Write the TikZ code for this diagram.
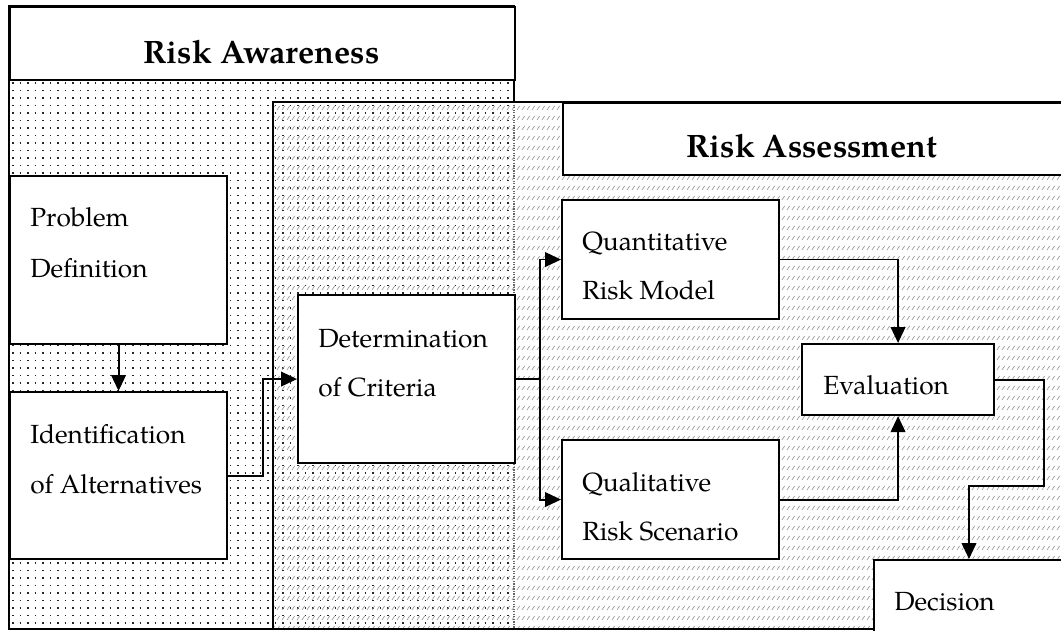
\documentclass[tikz,border=0pt]{standalone}
\usepackage{fontspec}
\setmainfont{TeX Gyre Pagella}
\usetikzlibrary{arrows.meta}
\newcommand\mybox[6][]{\node[box,#1,minimum width={(#5-#3)*0.75pt},minimum height={(#6-#4)*0.75pt}] (#2) at (#3,#4) {};}
\tikzset{
  box/.style={draw, line width=1.6pt, fill=white, inner sep=0pt, anchor=north west},
  txt/.style={anchor=base west, inner sep=0pt, font=\fontsize{19.7}{24}\selectfont},
  ttl/.style={anchor=base, inner sep=0pt, font=\bfseries\fontsize{24.3}{29}\selectfont},
  conn/.style={line width=1.4pt},
  arr/.style={conn, -{Triangle[length=12pt,width=11pt]}},
  dotrow/.style={black!85, line width=1.4pt, dash pattern=on 1.4pt off 4.225pt},
  hatch/.style={black!40, line width=0.5pt},
}
\begin{document}
\begin{tikzpicture}[x=0.75pt,y=-0.75pt]
\useasboundingbox (0,0) rectangle (1061,631);
\clip (0,0) rectangle (1061,631);
% Risk Awareness region: dotted fill
\begin{scope}
\clip (9,79) rectangle (514,629);
\foreach \r in {0,...,72}
  \draw[dotrow] (12,83+\r*7.5) -- (514,83+\r*7.5);
\end{scope}
\draw[line width=1.6pt] (514,102) -- (514,6) -- (9,6) -- (9,629) -- (273,629);
\mybox{rat}{9}{6}{514}{79}
\node[ttl] (ratt) at (261.5,64) {Risk Awareness};
% Risk Assessment region: hatched fill
\begin{scope}
\clip (273,102) rectangle (1061,629);
\foreach \r in {0,...,52}
  \draw[hatch] foreach \c in {0,...,158} {(272+\c*5,110+\r*10) -- ++(2.6,-4)};
\end{scope}
\draw[black!60, densely dotted, line width=0.9pt] (514,102) -- (514,629);
\draw[line width=1.6pt] (1075,102) -- (273,102) -- (273,629) -- (1075,629);
\mybox{ast}{562}{102}{1080}{174}
\node[ttl] (astt) at (812,158) {Risk Assessment};
% boxes
\mybox{pd}{9}{175}{226}{343}
\node[txt] (pd1) at (30,227) {Problem};
\node[txt] (pd2) at (30,277) {Definition};
\mybox{id}{9}{391}{226}{558}
\node[txt] (id1) at (30,443) {Identification};
\node[txt] (id2) at (30,493) {of Alternatives};
\mybox{dc}{297}{294}{514}{462}
\node[txt] (dc1) at (318,347) {Determination};
\node[txt] (dc2) at (318,396) {of Criteria};
\mybox{qn}{561}{199}{778}{318}
\node[txt] (qn1) at (582,251) {Quantitative};
\node[txt] (qn2) at (582,300) {Risk Model};
\mybox{ql}{561}{439}{778}{558}
\node[txt] (ql1) at (582,491) {Qualitative};
\node[txt] (ql2) at (582,540) {Risk Scenario};
\mybox{ev}{801}{343}{993}{414}
\node[txt] (ev1) at (823,394) {Evaluation};
\mybox{dec}{873}{559}{1090}{660}
\node[txt] (dec1) at (894,610) {Decision};
% connectors
\draw[arr] (pd.south) -- (id.north);
\draw[arr] (id.east) -- ++(35,0) |- (dc.west);
\draw[conn] (dc.east) -- ++(24,0) coordinate (split);
\draw[arr] (split) |- (qn.west);
\draw[arr] (split) |- (ql.west);
\draw[arr] (qn.east) -| (ev.north);
\draw[arr] (ql.east) -| (ev.south);
\coordinate (bend) at (969,486);
\draw[arr] (ev.east) -- ++(49,0) |- (bend) -- (bend |- dec.north);
\end{tikzpicture}
\end{document}
